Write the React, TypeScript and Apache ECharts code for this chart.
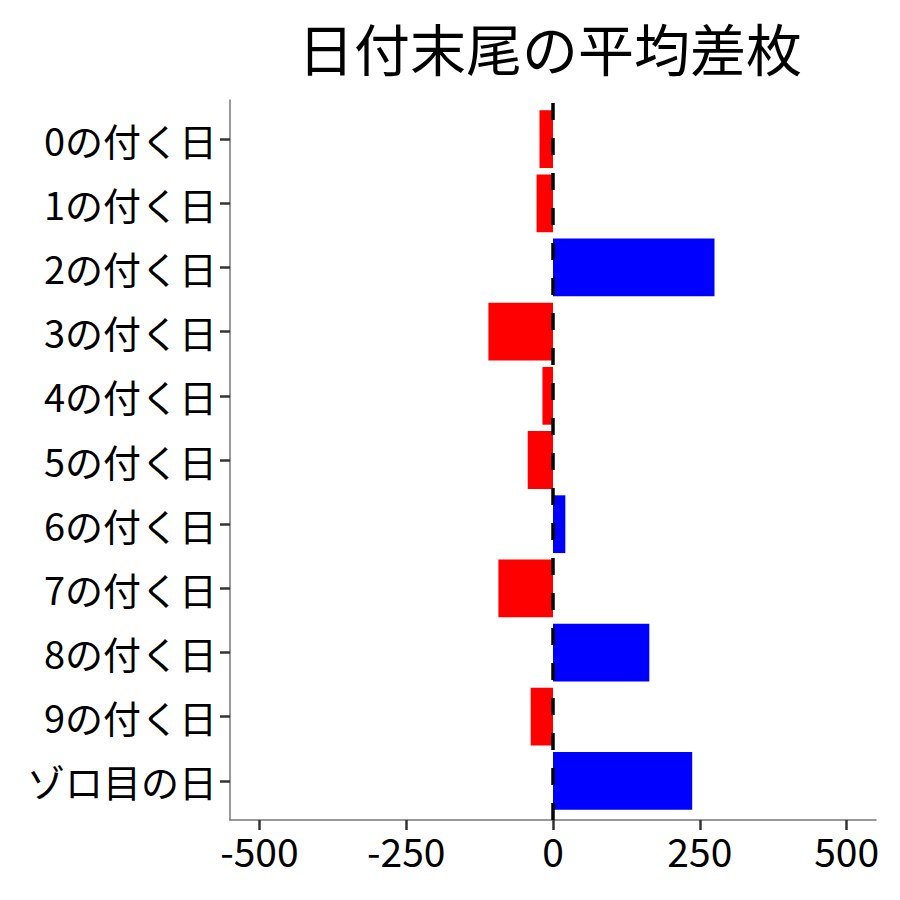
import React, { useEffect, useRef } from "react";
import * as echarts from "echarts";

const titleText = "日付末尾の平均差枚";
const categories = [
  "0の付く日",
  "1の付く日",
  "2の付く日",
  "3の付く日",
  "4の付く日",
  "5の付く日",
  "6の付く日",
  "7の付く日",
  "8の付く日",
  "9の付く日",
  "ゾロ目の日",
];
const values = [-23, -28, 275, -110, -18, -43, 21, -93, 164, -38, 237];
const xTicks = [-500, -250, 0, 250, 500];

const FONT = "'Noto Sans CJK JP', 'Noto Sans', sans-serif";

export default function App() {
  const ref = useRef<HTMLDivElement>(null);
  useEffect(() => {
    if (!ref.current) return;
    const chart = echarts.init(ref.current, undefined, { renderer: "svg" });
    chart.setOption({
      animation: false,
      backgroundColor: "#ffffff",
      textStyle: { fontFamily: FONT },
      title: {
        text: titleText,
        left: 290,
        top: 7,
        padding: 0,
        textStyle: { fontFamily: FONT, fontSize: 56, lineHeight: 62, fontWeight: "normal", color: "#000" },
      },
      grid: [
        { left: 222, top: 99, height: 706, right: 32, containLabel: false },
        { left: 222, top: 92, height: 720, right: 32, containLabel: false },
      ],
      xAxis: [
        {
          type: "value",
          gridIndex: 0,
          min: -550,
          max: 550,
          offset: 7,
          splitLine: { show: false },
          axisLine: { show: true, onZero: false, lineStyle: { color: "#777", width: 1.5 } },
          axisTick: {
            show: true,
            length: 10,
            customValues: xTicks,
            lineStyle: { color: "#333", width: 2.5 },
          },
          axisLabel: {
            customValues: xTicks,
            fontSize: 39,
            color: "#000",
            margin: 10,
            fontFamily: FONT,
          },
        },
        {
          type: "value",
          gridIndex: 1,
          min: -550,
          max: 550,
          show: false,
        },
      ],
      yAxis: [
        {
          type: "category",
          gridIndex: 0,
          data: categories,
          inverse: true,
          axisLine: { show: false, onZero: false },
          axisTick: {
            show: true,
            length: 10,
            alignWithLabel: true,
            lineStyle: { color: "#333", width: 2.5 },
          },
          axisLabel: { fontSize: 38, color: "#000", margin: 13, fontFamily: FONT },
          splitLine: { show: false },
        },
        {
          type: "value",
          gridIndex: 1,
          min: 0,
          max: 1,
          axisLine: { show: true, onZero: false, lineStyle: { color: "#777", width: 1.5 } },
          axisTick: { show: false },
          axisLabel: { show: false },
          splitLine: { show: false },
        },
      ],
      series: [
        {
          type: "bar",
          xAxisIndex: 0,
          yAxisIndex: 0,
          barWidth: "90%",
          data: values.map((v) => ({
            value: v,
            itemStyle: { color: v < 0 ? "#ff0000" : "#0000ff" },
          })),
        },
        {
          type: "scatter",
          xAxisIndex: 1,
          yAxisIndex: 1,
          data: [],
          markLine: {
            silent: true,
            symbol: "none",
            label: { show: false },
            lineStyle: { color: "#000", type: [17, 18], width: 3.5 },
            data: [{ xAxis: 0 }],
          },
          z: 5,
        },
      ],
    });
    return () => chart.dispose();
  }, []);
  return <div ref={ref} style={{ width: 900, height: 900 }} />;
}
